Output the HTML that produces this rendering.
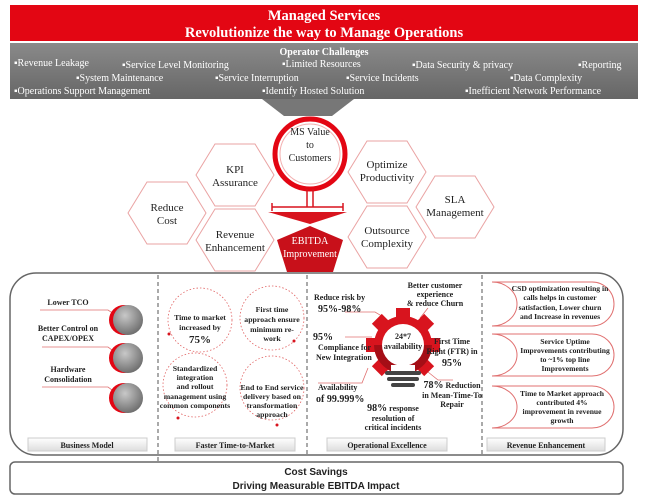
<!DOCTYPE html>
<html><head><meta charset="utf-8"><style>
html,body{margin:0;padding:0;background:#fff}
svg{display:block}
text{font-family:"Liberation Serif",serif;font-weight:bold;fill:#222}
.s{font-family:"Liberation Sans",sans-serif}
</style></head><body>
<svg width="667" height="498" viewBox="0 0 667 498" xmlns="http://www.w3.org/2000/svg">
<defs>
<linearGradient id="gr" x1="0" y1="0" x2="0" y2="1"><stop offset="0" stop-color="#8a8a8a"/><stop offset="1" stop-color="#666"/></linearGradient>
<radialGradient id="ball" cx="0.4" cy="0.35" r="0.7"><stop offset="0" stop-color="#c8c8c8"/><stop offset="1" stop-color="#6a6a6a"/></radialGradient>
<linearGradient id="bar" x1="0" y1="0" x2="0" y2="1"><stop offset="0" stop-color="#fff"/><stop offset="1" stop-color="#ddd"/></linearGradient>
</defs>
<rect x="10" y="5" width="628" height="36" fill="#e30613"/>
<text x="324" y="20" text-anchor="middle" font-size="14.5" style="fill:#fff">Managed Services</text>
<text x="324" y="37" text-anchor="middle" font-size="14.5" style="fill:#fff">Revolutionize the way to Manage Operations</text>
<rect x="10" y="43" width="628" height="56" fill="url(#gr)"/>
<polygon points="262,99 354,99 332,116 284,116" fill="#777"/>
<g font-size="10" style="font-weight:normal">
<text x="324" y="55" text-anchor="middle" font-size="10" style="fill:#fff;font-weight:bold">Operator Challenges</text>
<text x="14" y="66" style="fill:#fff;font-weight:normal">▪Revenue Leakage</text>
<text x="122" y="68" style="fill:#fff;font-weight:normal">▪Service Level Monitoring</text>
<text x="282" y="67" style="fill:#fff;font-weight:normal">▪Limited Resources</text>
<text x="412" y="68" style="fill:#fff;font-weight:normal">▪Data Security &amp; privacy</text>
<text x="578" y="68" style="fill:#fff;font-weight:normal">▪Reporting</text>
<text x="76" y="81" style="fill:#fff;font-weight:normal">▪System Maintenance</text>
<text x="215" y="81" style="fill:#fff;font-weight:normal">▪Service Interruption</text>
<text x="346" y="81" style="fill:#fff;font-weight:normal">▪Service Incidents</text>
<text x="510" y="81" style="fill:#fff;font-weight:normal">▪Data Complexity</text>
<text x="14" y="94" style="fill:#fff;font-weight:normal">▪Operations Support Management</text>
<text x="262" y="94" style="fill:#fff;font-weight:normal">▪Identify  Hosted Solution</text>
<text x="465" y="94" style="fill:#fff;font-weight:normal">▪Inefficient Network Performance</text>
</g>
<g fill="#fff" stroke="#eaa3a3" stroke-width="1">
<polygon points="128,213 147,182 187,182 206,213 187,244 147,244"/>
<polygon points="196,175 215,144 255,144 274,175 255,206 215,206"/>
<polygon points="196,240 215,209 255,209 274,240 255,271 215,271"/>
<polygon points="348,172 367,141 407,141 426,172 407,203 367,203"/>
<polygon points="348,237 367,206 407,206 426,237 407,268 367,268"/>
<polygon points="416,207 435,176 475,176 494,207 475,238 435,238"/>
</g>
<g font-size="11" text-anchor="middle">
<text x="167" y="211" style="font-weight:normal">Reduce</text><text x="167" y="224" style="font-weight:normal">Cost</text>
<text x="235" y="173" style="font-weight:normal">KPI</text><text x="235" y="186" style="font-weight:normal">Assurance</text>
<text x="235" y="238" style="font-weight:normal">Revenue</text><text x="235" y="251" style="font-weight:normal">Enhancement</text>
<text x="387" y="168" style="font-weight:normal">Optimize</text><text x="387" y="181" style="font-weight:normal">Productivity</text>
<text x="387" y="234" style="font-weight:normal">Outsource</text><text x="387" y="247" style="font-weight:normal">Complexity</text>
<text x="455" y="203" style="font-weight:normal">SLA</text><text x="455" y="216" style="font-weight:normal">Management</text>
</g>
<circle cx="310" cy="154" r="35" fill="#fff" stroke="#e30613" stroke-width="5"/>
<circle cx="310" cy="154" r="30" fill="none" stroke="#f3b0b0" stroke-width="1"/>
<g font-size="10" text-anchor="middle"><text x="310" y="135" style="font-weight:normal">MS Value</text><text x="310" y="148" style="font-weight:normal">to</text><text x="310" y="161" style="font-weight:normal">Customers</text></g>
<path d="M307 189 V207 M313 189 V207 M272 207 H343 M272 203 V211 M343 203 V211" stroke="#d8141e" stroke-width="1.5" fill="none"/>
<polygon points="268,212 347,212 310,224" fill="#d8141e"/>
<polygon points="310,226 343,240 333,272 287,272 277,240" fill="#c8101a"/>
<text x="310" y="244" text-anchor="middle" font-size="10" style="fill:#fff;font-weight:normal">EBITDA</text>
<text x="310" y="257" text-anchor="middle" font-size="10" style="fill:#fff;font-weight:normal">Improvement</text>
<rect x="10" y="273" width="613" height="182" rx="26" fill="#fff" stroke="#666" stroke-width="1.5"/>
<g stroke="#555" stroke-dasharray="4,3" stroke-width="1"><line x1="158" y1="275" x2="158" y2="462"/><line x1="307" y1="275" x2="307" y2="455"/><line x1="482" y1="275" x2="482" y2="455"/></g>
<g fill="url(#bar)" stroke="#ccc"><rect x="28" y="438" width="119" height="13"/><rect x="175" y="438" width="120" height="13"/><rect x="327" y="438" width="120" height="13"/><rect x="487" y="438" width="118" height="13"/></g>
<g font-size="8" text-anchor="middle">
<text x="87" y="448">Business Model</text><text x="235" y="448">Faster Time-to-Market</text>
<text x="387" y="448">Operational Excellence</text><text x="546" y="448">Revenue Enhancement</text>
</g>
<g stroke="#e07070" fill="none" stroke-width="0.8">
<path d="M40 310 H108 L120 318"/><path d="M42 347 H108 L120 356"/><path d="M42 387 H108 L120 396"/>
</g>
<g>
<circle cx="124" cy="320" r="15" fill="#e30613"/><circle cx="128" cy="320" r="15" fill="url(#ball)"/>
<circle cx="124" cy="358" r="15" fill="#e30613"/><circle cx="128" cy="358" r="15" fill="url(#ball)"/>
<circle cx="124" cy="398" r="15" fill="#e30613"/><circle cx="128" cy="398" r="15" fill="url(#ball)"/>
</g>
<g font-size="8" text-anchor="middle">
<text x="68" y="305">Lower TCO</text>
<text x="68" y="331">Better Control on</text><text x="68" y="341">CAPEX/OPEX</text>
<text x="68" y="372">Hardware</text><text x="68" y="382">Consolidation</text>
</g>
<g fill="none" stroke="#e06060" stroke-dasharray="1.5,2" stroke-width="0.8">
<circle cx="200" cy="320" r="32"/><circle cx="272" cy="318" r="32"/><circle cx="195" cy="385" r="32"/><circle cx="272" cy="388" r="32"/>
</g>
<g fill="#d8141e"><circle cx="169" cy="334" r="1.5"/><circle cx="294" cy="341" r="1.5"/><circle cx="178" cy="418" r="1.5"/><circle cx="277" cy="425" r="1.5"/></g>
<g font-size="7.8" text-anchor="middle">
<text x="200" y="320">Time to market</text><text x="200" y="330">increased by</text><text x="200" y="343" font-size="11">75%</text>
<text x="272" y="312">First time</text><text x="272" y="322">approach ensure</text><text x="272" y="332">minimum re-</text><text x="272" y="341">work</text>
<text x="195" y="371">Standardized</text><text x="195" y="380">integration</text><text x="195" y="389">and rollout</text><text x="195" y="399">management using</text><text x="195" y="408">common components</text>
<text x="272" y="390">End to End service</text><text x="272" y="399">delivery based on</text><text x="272" y="408">transformation</text><text x="272" y="417">approach</text>
</g>
<g stroke="#e07070" fill="none" stroke-width="0.8">
<path d="M345 312 H375 L385 318"/><path d="M420 318 L428 308"/><path d="M345 337 H372"/><path d="M318 383 H362 L368 368"/><path d="M428 372 L438 380 H453"/>
</g>
<g transform="translate(403,345)">
<g fill="#d8141e">
<circle r="29"/>
<rect x="-7" y="-37" width="14" height="12"/>
<rect x="-7" y="-37" width="14" height="12" transform="rotate(45)"/>
<rect x="-7" y="-37" width="14" height="12" transform="rotate(90)"/>
<rect x="-7" y="-37" width="14" height="12" transform="rotate(135)"/>
<rect x="-7" y="-37" width="14" height="12" transform="rotate(-45)"/>
<rect x="-7" y="-37" width="14" height="12" transform="rotate(-90)"/>
<rect x="-7" y="-37" width="14" height="12" transform="rotate(-135)"/>
</g>
<path d="M-29 0 A29 29 0 0 0 -12 26 L-12 36 L12 36 L12 26 A29 29 0 0 0 29 0 Z" fill="#a50e16"/>
<circle r="21" fill="#fff"/>
<rect x="-12" y="20" width="24" height="16" fill="#fff"/>
<rect x="-18" y="26" width="36" height="4" rx="2" fill="#444"/>
<rect x="-16" y="32" width="32" height="4" rx="2" fill="#444"/>
<rect x="-12" y="38" width="24" height="4" rx="2" fill="#444"/>
<text y="-6" text-anchor="middle" font-size="8">24*7</text>
<text y="4" text-anchor="middle" font-size="8">availability</text>
</g>
<g font-size="8">
<text x="314" y="300">Reduce risk by</text><text x="318" y="312" font-size="10">95%-98%</text>
<text x="435" y="288" text-anchor="middle">Better customer</text><text x="435" y="297" text-anchor="middle">experience</text><text x="435" y="306" text-anchor="middle">&amp; reduce Churn</text>
<text x="313" y="340" font-size="10">95%</text><text x="318" y="350">Compliance for</text><text x="316" y="360">New Integration</text>
<text x="452" y="344" text-anchor="middle">First Time</text><text x="452" y="354" text-anchor="middle">Right (FTR) in</text><text x="452" y="366" text-anchor="middle" font-size="10">95%</text>
<text x="318" y="390">Availability</text><text x="316" y="402" font-size="10">of 99.999%</text>
<text x="452" y="388" text-anchor="middle"><tspan font-size="10">78%</tspan> Reduction</text><text x="452" y="398" text-anchor="middle">in Mean-Time-To</text><text x="452" y="407" text-anchor="middle">Repair</text>
<text x="393" y="411" text-anchor="middle"><tspan font-size="10">98%</tspan> response</text><text x="393" y="421" text-anchor="middle">resolution of</text><text x="393" y="430" text-anchor="middle">critical incidents</text>
</g>
<g fill="#fff" stroke="#e07070" stroke-width="1">
<path d="M492 282 H592 A22 22 0 0 1 592 326 H492 A25 22 0 0 0 492 282 Z"/>
<path d="M492 334 H592 A22 21 0 0 1 592 376 H492 A25 21 0 0 0 492 334 Z"/>
<path d="M492 386 H592 A22 21 0 0 1 592 428 H492 A25 21 0 0 0 492 386 Z"/>
</g>
<g font-size="7.6" text-anchor="middle">
<text x="560" y="291">CSD optimization resulting in</text><text x="560" y="300">calls  helps in customer</text><text x="560" y="310">satisfaction, Lower churn</text><text x="560" y="319">and Increase in revenues</text>
<text x="565" y="344">Service Uptime</text><text x="565" y="353">Improvements contributing</text><text x="565" y="362">to ~1% top line</text><text x="565" y="371">Improvements</text>
<text x="562" y="396">Time to Market approach</text><text x="562" y="405">contributed 4%</text><text x="562" y="414">improvement in revenue</text><text x="562" y="423">growth</text>
</g>
<rect x="10" y="462" width="613" height="32" rx="5" fill="#fff" stroke="#666" stroke-width="1.5"/>
<text class="s" x="316" y="475" text-anchor="middle" font-size="10">Cost Savings</text>
<text class="s" x="316" y="489" text-anchor="middle" font-size="10">Driving Measurable EBITDA Impact</text>
</svg>
</body></html>
